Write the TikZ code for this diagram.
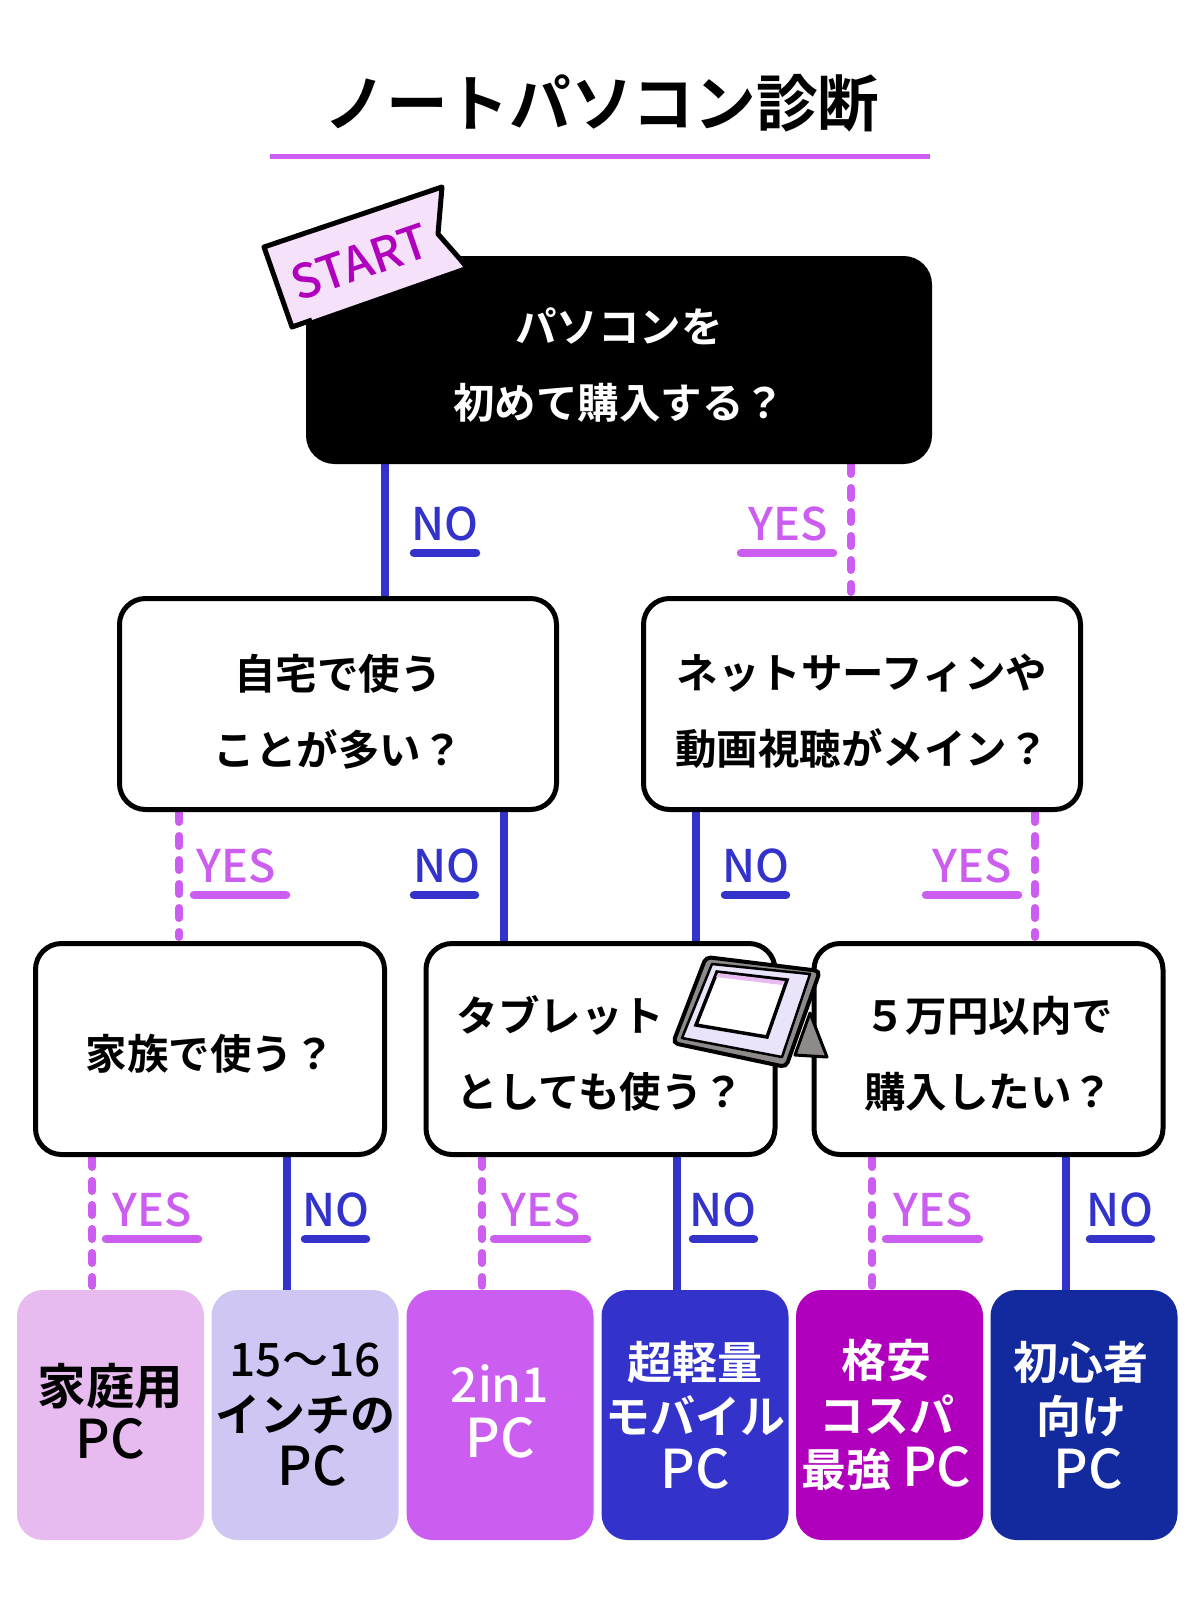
\documentclass[tikz,border=0pt]{standalone}
\usepackage{fontspec}
\usetikzlibrary{backgrounds}
\setmainfont{Noto Sans CJK JP}[BoldFont=Noto Sans CJK JP Bold]
\newfontfamily\medfont{Noto Sans CJK JP Medium}
\definecolor{cyes}{HTML}{CB5EF0}
\definecolor{cno}{HTML}{3333CC}
\definecolor{cmag}{HTML}{B000BE}
\definecolor{cnavy}{HTML}{122A9E}
\definecolor{cpink}{HTML}{E8BBF0}
\definecolor{clav}{HTML}{D0C6F3}
\definecolor{ctag}{HTML}{F5E1FA}
\definecolor{cscreen}{HTML}{EAE4FB}
\definecolor{cgrey}{HTML}{8E8A8A}
\tikzset{
  x=1pt,y=-1pt,
  title/.style={font=\bfseries\fontsize{61.7}{62}\selectfont,inner sep=0pt},
  qbox/.style={draw=black,line width=5pt,fill=white,rounded corners=26pt,align=center,inner sep=0pt,
    font=\bfseries\fontsize{41.5}{76}\selectfont},
  startbox/.style={qbox,fill=black,text=white},
  res/.style={rounded corners=26pt,align=center,inner sep=0pt,minimum width=187pt,minimum height=250pt,
    font=\bfseries\fontsize{45}{54.5}\selectfont},
  noline/.style={draw=cno,line width=8pt},
  yesline/.style={draw=cyes,line width=8pt,line cap=round,dash pattern=on 10pt off 14pt,shorten >=4pt},
  lab/.style={inner sep=0pt,font=\medfont\fontsize{45}{46}\selectfont},
  under/.style={line width=8.5pt,line cap=round},
}
\newcommand{\conn}[4]{\draw[#1] (#2.south -| #4,0) -- (#3.north -| #4,0);}
\newcommand{\yn}[7]{% name, text, colour, cx, cy, underline x1, x2
  \node[lab,text=#3] (#1) at (#4,#5) {#2};
  \draw[under,draw=#3] (#6,#5+29) -- (#7,#5+29);}
\newcommand{\pd}[1]{\rule{0pt}{#1pt}}
\newcommand{\pcx}{{\medfont\mdseries\fontsize{53.5}{54.5}\selectfont PC}}
\newcommand{\lat}[2]{{\medfont\mdseries\fontsize{#1}{54.5}\selectfont #2}}
\newcommand{\pu}{\rule[-8pt]{0pt}{1pt}}
\begin{document}
\begin{tikzpicture}
\useasboundingbox (0,0) rectangle (1200,1612);
\begin{scope}[on background layer]
\fill[white] (0,0) rectangle (1200,1612);
\end{scope}
\node[title] (ttl) at (602,103) {ノートパソコン診断};
\fill[cyes] (270,153.5) rectangle (930,158.5);

% question boxes
\node[startbox,minimum width=621pt,minimum height=203pt] (q1) at (619,360) {\pd{44}パソコンを\\初めて購入する？};
\node[qbox,minimum width=437pt,minimum height=211pt] (q2) at (338,704) {\pd{50}自宅で使う\\ことが多い？};
\node[qbox,minimum width=437pt,minimum height=211pt] (q3) at (862,704) {\pd{50}ネットサーフィンや\\動画視聴がメイン？};
\node[qbox,minimum width=349pt,minimum height=211pt] (q4) at (210,1049) {\pd{44}家族で使う？};
\node[qbox,minimum width=349pt,minimum height=211pt,align=left] (q5) at (600.5,1049) {\pd{44}タブレット\\としても使う？};
\node[qbox,minimum width=349pt,minimum height=211pt] (q6) at (988.5,1049) {\pd{44}５万円以内で\\購入したい？};

% results
\node[res,fill=cpink] (r1) at (110.5,1415) {{\fontsize{48.5}{54.5}\selectfont 家庭用}\\\pcx\pu};
\node[res,fill=clav] (r2) at (305,1415) {\lat{46}{15〜16}\\インチの\\\hspace{14pt}\pcx};
\node[res,fill=cyes,text=white] (r3) at (500,1415) {\lat{48}{2in1}\\\pcx\pu};
\node[res,fill=cno,text=white] (r4) at (695,1415) {超軽量\\モバイル\\\pcx};
\node[res,fill=cmag,text=white] (r5) at (889.5,1415) {格安\kern6pt\\コスパ\kern6pt\\最強 \pcx\kern6pt};
\node[res,fill=cnavy,text=white] (r6) at (1084,1415) {初心者\kern6pt\\向け\kern6pt\\\hspace{14pt}\pcx\kern6pt};

% connectors
\begin{scope}[on background layer]
\conn{noline}{q1}{q2}{385}
\conn{yesline}{q1}{q2}{851}
\conn{yesline}{q2}{q4}{179}
\conn{noline}{q2}{q5}{504}
\conn{noline}{q3}{q5}{696}
\conn{yesline}{q3}{q6}{1035}
\conn{yesline}{q4}{r1}{92}
\conn{noline}{q4}{r2}{287}
\conn{yesline}{q5}{r3}{482}
\conn{noline}{q5}{r4}{677}
\conn{yesline}{q6}{r5}{872}
\conn{noline}{q6}{r6}{1066}
\end{scope}

% labels
\yn{a1}{NO}{cno}{445}{524}{414}{476}
\yn{a2}{YES}{cyes}{788}{524}{741}{833}
\yn{b1}{YES}{cyes}{236}{866}{194}{286}
\yn{b2}{NO}{cno}{447}{866}{414}{475}
\yn{b3}{NO}{cno}{756}{866}{725}{786}
\yn{b4}{YES}{cyes}{972}{866}{926}{1018}
\yn{c1}{YES}{cyes}{152}{1210}{106}{198}
\yn{c2}{NO}{cno}{336}{1210}{305}{366}
\yn{c3}{YES}{cyes}{541}{1210}{494}{587}
\yn{c4}{NO}{cno}{723}{1210}{693}{754}
\yn{c5}{YES}{cyes}{933}{1210}{886}{979}
\yn{c6}{NO}{cno}{1120}{1210}{1090}{1151}

% START tag
\fill[ctag] (264,247) -- (442,187) -- (437,233) -- (463,267) -- (292,327) -- cycle;
\draw[line width=5pt,line join=round] (467,267) -- (438,234) -- (442,187) -- (264,247) -- (292,327) -- (312,320);
\node[inner sep=0pt,text=cmag,rotate=19,font=\medfont\fontsize{47}{48}\selectfont] (st) at (360,262) {START};

% tablet
\draw[fill=cgrey,line width=3pt,line join=round] (810,1013) -- (827,1057) -- (795,1055) -- cycle;
\draw[fill=cgrey,line width=4pt,rounded corners=5pt] (706,957) -- (820,971) -- (786,1067) -- (673,1043) -- cycle;
\draw[fill=cscreen,line width=2.5pt,line join=round] (712,964) -- (810,974) -- (782,1057) -- (682,1038) -- cycle;
\draw[fill=white,line width=3.5pt] (717,972) -- (787,980) -- (767,1037) -- (696,1025) -- cycle;
\fill[cpink] (718,973) -- (785,981) -- (782,985) -- (716,977) -- cycle;
\end{tikzpicture}
\end{document}
